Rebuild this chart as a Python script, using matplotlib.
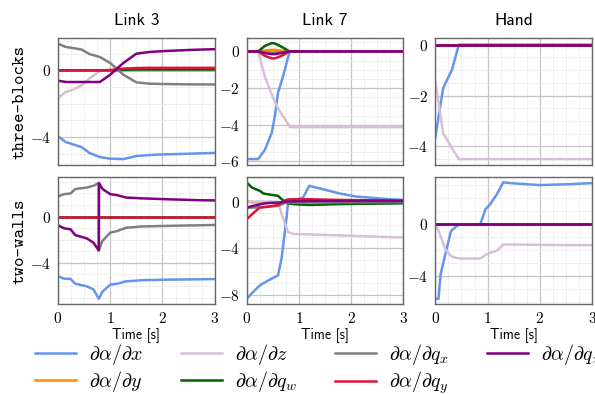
import os
import matplotlib
matplotlib.use("Agg")
import matplotlib.pyplot as plt
from matplotlib.font_manager import FontProperties
from matplotlib.ticker import MultipleLocator, FuncFormatter

plt.rcParams['mathtext.fontset'] = 'cm'
plt.rcParams['font.family'] = ['DejaVu Sans']

# ---- data ----
# Link 3, three-blocks
t_a = [0, 0.15, 0.3, 0.45, 0.6, 0.8, 1.0, 1.25, 1.5, 1.75, 2.0, 2.5, 3.0]
a_dx = [-3.96, -4.3, -4.45, -4.6, -4.95, -5.2, -5.3, -5.32, -5.14, -5.08, -5.04, -5.0, -4.95]
a_dy = [0, 0, 0, 0, 0, 0, 0, 0, 0, 0, 0, 0, 0]
a_dz = [-1.66, -1.3, -1.15, -0.9, -0.5, -0.05, 0.0, 0.02, 0.05, 0.05, 0.05, 0.05, 0.05]
a_dqw = [0, 0, 0, 0, 0, 0, 0, 0.03, 0.05, 0.05, 0.05, 0.05, 0.05]
a_dqx = [1.6, 1.4, 1.33, 1.25, 0.98, 0.8, 0.44, -0.26, -0.72, -0.8, -0.82, -0.84, -0.85]
a_dqy = [0, 0, 0, 0, 0, 0, 0.02, 0.1, 0.14, 0.15, 0.15, 0.15, 0.15]
a_dqz = [-0.62, -0.7, -0.7, -0.7, -0.7, -0.7, -0.26, 0.44, 1.0, 1.1, 1.15, 1.22, 1.27]

# Link 7, three-blocks
t_b = [0, 0.22, 0.35, 0.48, 0.54, 0.6, 0.7, 0.8, 0.83, 1.0, 3.0]
b_dx = [-5.87, -5.87, -5.36, -4.44, -3.53, -2.25, -1.33, -0.24, 0, 0, 0]
b_dy = [0, 0, 0.05, 0.08, 0.08, 0.06, 0.04, 0, 0, 0, 0]
b_dz = [0, 0, -1.4, -2.35, -2.75, -3.1, -3.55, -4.0, -4.13, -4.13, -4.13]
b_dqw = [0, 0, 0.3, 0.45, 0.43, 0.35, 0.2, 0.03, 0, 0, 0]
b_dqx = [0, 0, -0.05, -0.08, -0.08, -0.06, -0.04, 0, 0, 0, 0]
b_dqy = [0, 0, -0.25, -0.38, -0.38, -0.32, -0.2, -0.03, 0, 0, 0]
b_dqz = [0, 0, -0.1, -0.15, -0.15, -0.12, -0.08, -0.01, 0, 0, 0]

# Hand, three-blocks
t_c = [0, 0.15, 0.32, 0.45, 3.0]
c_dx = [-3.63, -1.71, -0.98, 0, 0]
c_dy = [0, 0, 0, 0, 0]
c_dz = [-1.44, -3.48, -4.07, -4.5, -4.5]
c_dqw = [0, 0, 0, 0, 0]
c_dqx = [0, 0, 0, 0, 0]
c_dqy = [0, 0, 0, 0, 0]
c_dqz = [0, 0, 0, 0, 0]

# Link 3, two-walls
t_d = [0, 0.11, 0.24, 0.33, 0.55, 0.68, 0.78, 0.785, 0.85, 1.0, 1.13, 1.3, 1.6, 2.1, 2.7, 3.0]
d_dx = [-5.16, -5.36, -5.39, -5.8, -6.03, -6.3, -7.1, -7.08, -6.5, -5.88, -5.8, -5.6, -5.5, -5.45, -5.42, -5.4]
d_dy = [0] * 16
d_dz = [0] * 16
d_dqw = [0] * 16
d_dqx = [1.74, 1.94, 2.0, 2.38, 2.52, 2.67, 2.9, -2.9, -2.1, -1.39, -1.25, -0.97, -0.85, -0.8, -0.75, -0.72]
d_dqy = [0] * 16
d_dqz = [-0.75, -1.0, -1.1, -1.6, -1.88, -2.26, -2.93, 2.9, 2.4, 1.94, 1.86, 1.65, 1.58, 1.5, 1.42, 1.4]

# Link 7, two-walls
t_e = [0, 0.1, 0.25, 0.32, 0.44, 0.6, 0.67, 0.76, 0.79, 0.89, 1.08, 1.2, 1.46, 1.78, 2.1, 2.73, 3.0]
e_dx = [-8.35, -7.86, -7.2, -7.0, -6.7, -6.33, -4.83, -1.5, -0.23, 0.06, 0.35, 1.35, 1.06, 0.69, 0.43, 0.2, 0.15]
e_dy = [0, -0.05, -0.1, -0.1, -0.1, -0.08, -0.05, 0, 0, 0, 0, 0, 0, 0, 0, 0, 0]
e_dz = [0, 0, 0, 0, 0, 0, -1.1, -2.2, -2.6, -2.78, -2.8, -2.82, -2.86, -2.9, -2.95, -3.05, -3.07]
e_dqw = [1.64, 1.2, 0.92, 0.69, 0.6, 0.49, 0.2, -0.09, -0.15, -0.22, -0.27, -0.29, -0.26, -0.22, -0.2, -0.17, -0.15]
e_dqx = [-0.52, -0.52, -0.5, -0.48, -0.42, -0.37, -0.25, -0.09, -0.09, -0.09, -0.09, -0.08, -0.07, -0.06, -0.06, -0.05, -0.05]
e_dqy = [-1.53, -1.1, -0.52, -0.48, -0.43, -0.29, -0.1, 0.14, 0.18, 0.2, 0.2, 0.2, 0.17, 0.14, 0.12, 0.1, 0.08]
e_dqz = [-0.52, -0.4, -0.25, -0.17, -0.12, -0.09, -0.05, 0, 0, 0.02, 0.03, 0.04, 0.05, 0.05, 0.05, 0.05, 0.05]

# Hand, two-walls
t_f = [0, 0.06, 0.1, 0.19, 0.3, 0.41, 0.48, 0.86, 0.96, 1.05, 1.18, 1.3, 1.44, 2.0, 2.5, 3.0]
f_dx = [-5.73, -5.73, -3.87, -2.32, -0.52, -0.13, 0, 0, 1.16, 1.55, 2.32, 3.23, 3.17, 3.02, 3.08, 3.17]
f_dy = [0] * 16
f_dz = [0, -0.5, -0.9, -1.9, -2.45, -2.6, -2.63, -2.63, -2.35, -2.2, -2.01, -1.55, -1.55, -1.58, -1.6, -1.6]
f_dqw = [0] * 16
f_dqx = [0] * 16
f_dqy = [0] * 16
f_dqz = [0] * 16

col_titles = ['Link 3', 'Link 7', 'Hand']
row_labels = ['three-blocks', 'two-walls']
labels = [r'$\partial\alpha/\partial x$', r'$\partial\alpha/\partial y$',
          r'$\partial\alpha/\partial z$', r'$\partial\alpha/\partial q_w$',
          r'$\partial\alpha/\partial q_x$', r'$\partial\alpha/\partial q_y$',
          r'$\partial\alpha/\partial q_z$']
colors = ['cornflowerblue', 'darkorange', 'thistle', 'darkgreen', 'gray', 'crimson', 'purple']

panels = [
    [(t_a, [a_dx, a_dy, a_dz, a_dqw, a_dqx, a_dqy, a_dqz]),
     (t_b, [b_dx, b_dy, b_dz, b_dqw, b_dqx, b_dqy, b_dqz]),
     (t_c, [c_dx, c_dy, c_dz, c_dqw, c_dqx, c_dqy, c_dqz])],
    [(t_d, [d_dx, d_dy, d_dz, d_dqw, d_dqx, d_dqy, d_dqz]),
     (t_e, [e_dx, e_dy, e_dz, e_dqw, e_dqx, e_dqy, e_dqz]),
     (t_f, [f_dx, f_dy, f_dz, f_dqw, f_dqx, f_dqy, f_dqz])],
]
ylims = [[(-5.66, 1.94), (-6.18, 0.73), (-4.72, 0.26)],
         [(-7.57, 3.39), (-8.8, 2.07), (-6.14, 3.61)]]
ysteps = [[(4, 1), (2, 0.5), (2, 0.5)],
          [(4, 1), (4, 1), (4, 1)]]

ttf_dir = os.path.join(matplotlib.get_data_path(), 'fonts', 'ttf')
tt_font = FontProperties(fname=os.path.join(ttf_dir, 'cmtt10.ttf'), size=13)
title_font = FontProperties(fname=os.path.join(ttf_dir, 'cmss10.ttf'), size=12.5)
xlab_font = FontProperties(fname=os.path.join(ttf_dir, 'cmss10.ttf'), size=10)
math_fmt = FuncFormatter(lambda v, p: r'$%g$' % v)

fig, axes = plt.subplots(2, 3, figsize=(5.95, 3.94), dpi=100)
fig.subplots_adjust(left=0.0975, right=0.995, top=0.9036, bottom=0.228, wspace=0.204, hspace=0.10)

for r in range(2):
    for c in range(3):
        ax = axes[r][c]
        t, series = panels[r][c]
        for vals, col, lab in zip(series, colors, labels):
            ax.plot(t, vals, color=col, lw=1.8, label=lab)
        ax.set_xlim(0, 3)
        ax.set_ylim(*ylims[r][c])
        ax.xaxis.set_major_locator(MultipleLocator(1))
        ax.xaxis.set_minor_locator(MultipleLocator(0.25))
        ax.yaxis.set_major_locator(MultipleLocator(ysteps[r][c][0]))
        ax.yaxis.set_minor_locator(MultipleLocator(ysteps[r][c][1]))
        ax.grid(which='major', color='#c4c4c4', lw=0.9)
        ax.grid(which='minor', color='#ececec', lw=0.6)
        ax.set_axisbelow(True)
        ax.tick_params(which='both', length=0, labelsize=11, pad=5)
        ax.xaxis.set_major_formatter(math_fmt)
        ax.yaxis.set_major_formatter(math_fmt)
        for s in ax.spines.values():
            s.set_color('#666666')
            s.set_linewidth(1.0)
        if r == 0:
            ax.set_title(col_titles[c], fontproperties=title_font, pad=9)
            ax.tick_params(labelbottom=False)
        else:
            ax.set_xlabel('Time [s]', fontproperties=xlab_font, labelpad=1)

fig.text(20 / 595, 1 - 101.5 / 394, row_labels[0], rotation=90, ha='center', va='center', fontproperties=tt_font)
fig.text(20 / 595, 1 - 241 / 394, row_labels[1], rotation=90, ha='center', va='center', fontproperties=tt_font)

handles, labs = axes[0][0].get_legend_handles_labels()
fig.legend(handles, labs, loc='upper left', bbox_to_anchor=(35 / 595, 1 - 342 / 394), ncol=4,
           frameon=False, fontsize=14.4, handlelength=2.05, handletextpad=0.65, columnspacing=1.9,
           labelspacing=0.12, borderpad=0, borderaxespad=0)

fig.savefig('out.png', dpi=100)
